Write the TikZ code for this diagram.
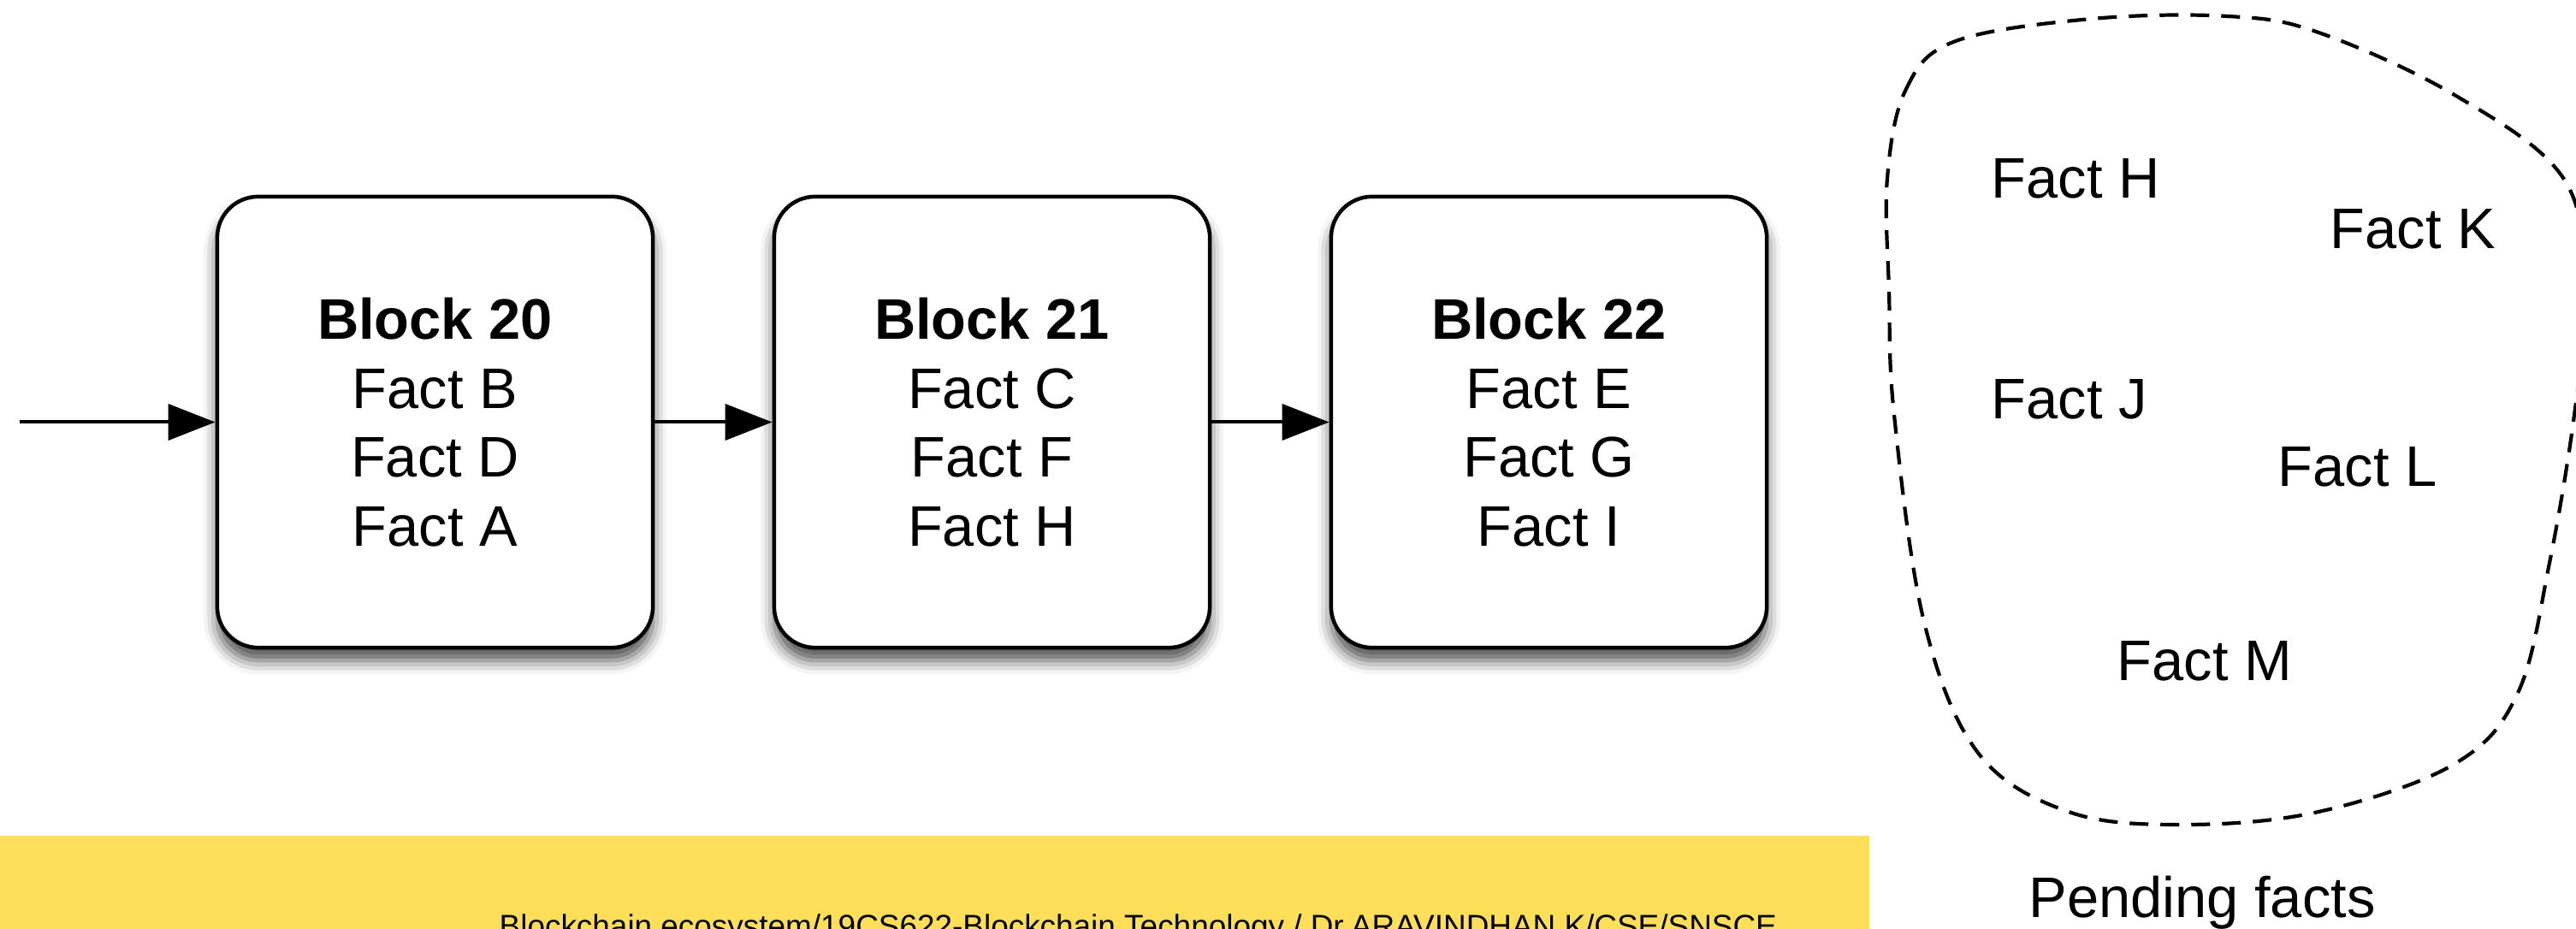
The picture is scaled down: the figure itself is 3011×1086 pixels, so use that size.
\documentclass[tikz,border=0pt]{standalone}
\usepackage{fontspec}
\setmainfont{Liberation Sans}
\usetikzlibrary{arrows.meta,shadows.blur}
\definecolor{bandyellow}{RGB}{255,222,89}
\tikzset{
  blockbox/.style={draw=black, line width=0.045cm, rounded corners=0.48cm, fill=white,
    minimum width=5.09cm, minimum height=5.27cm, align=center, inner sep=0pt,
    font=\fontsize{19}{22.9}\selectfont,
    blur shadow={shadow xshift=0pt, shadow yshift=-0.15cm, shadow blur radius=0.16cm, shadow opacity=70}},
  arr/.style={line width=0.04cm, -{Triangle[length=0.55cm, width=0.42cm]}},
  fact/.style={anchor=base west, inner sep=0pt, font=\fontsize{19}{22.9}\selectfont},
  cloudline/.style={line width=0.042cm, dash pattern=on 0.22cm off 0.14cm},
}
\begin{document}
\begin{tikzpicture}[x=0.01cm, y=-0.01cm]
\useasboundingbox (0,0) rectangle (3011,1086);
% footer band
\fill[bandyellow] (0,977) rectangle (2185,1086);
\node[anchor=base west, inner sep=0pt, font=\fontsize{10.5}{12.6}\selectfont] (footer) at (583,1096)
  {Blockchain ecosystem/19CS622-Blockchain Technology / Dr.ARAVINDHAN K/CSE/SNSCE};
% blocks
\node[blockbox] (b20) at (508.5,493.5) {\textbf{Block 20}\\Fact B\\Fact D\\Fact A};
\node[blockbox] (b21) at (1159.5,493.5) {\textbf{Block 21}\\Fact C\\Fact F\\Fact H};
\node[blockbox] (b22) at (1810.5,493.5) {\textbf{Block 22}\\Fact E\\Fact G\\Fact I};
\coordinate (start) at (23,493.5);
\draw[arr] (start) -- (b20.west);
\draw[arr] (b20.east) -- (b21.west);
\draw[arr] (b21.east) -- (b22.west);
% pending facts cloud
\draw[cloudline] plot[smooth cycle, tension=0.6] coordinates {
  (2206,208) (2228,104) (2286,48) (2445,22) (2604,19) (2710,38) (2869,111)
  (2996,208) (3022,340) (3009,485) (2980,658) (2943,810) (2869,893)
  (2710,949) (2551,964) (2418,949) (2312,880) (2249,727) (2214,485) (2208,340)};
\node[fact] (fh) at (2327,232) {Fact H};
\node[fact] (fk) at (2723,291) {Fact K};
\node[fact] (fj) at (2327,490) {Fact J};
\node[fact] (fl) at (2662,569) {Fact L};
\node[fact] (fm) at (2474,796) {Fact M};
\node[fact] (pending) at (2371,1073) {Pending facts};
\end{tikzpicture}
\end{document}
